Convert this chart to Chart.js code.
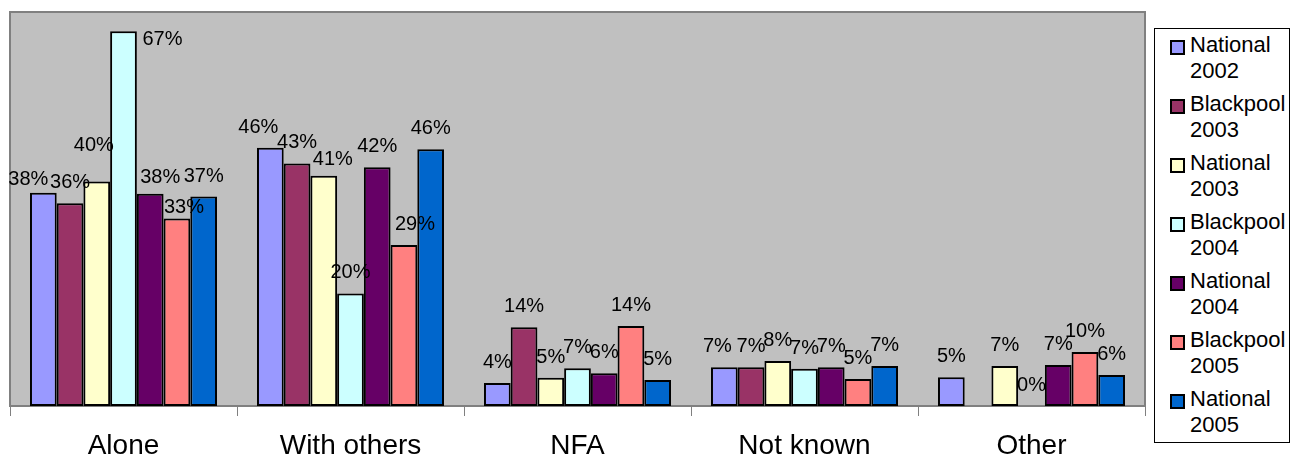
<!DOCTYPE html>
<html>
<head>
<meta charset="utf-8">
<title>Living arrangements</title>
<script src="https://cdn.jsdelivr.net/npm/chart.js@4.4.1/dist/chart.umd.min.js"></script>
<style>
  body { margin: 0; background: #fff; }
  #wrap { position: relative; width: 1293px; height: 457px; }
  #myChart { position: absolute; left: 0; top: 0; }
  #legend {
    position: absolute; left: 1154px; top: 28px; width: 134px; height: 410px;
    border: 1px solid #000; background: #fff;
    font-family: "Liberation Sans", Arial, sans-serif; font-size: 22px; line-height: 26px; color: #000;
    padding-top: 3px; box-sizing: content-box;
  }
  .item { position: relative; height: 52px; margin-bottom: 7px; padding-left: 35px; }
  .swatch { position: absolute; left: 15px; top: 8px; width: 11px; height: 11px; border: 2px solid #000; }
</style>
</head>
<body>
<div id="wrap">
  <canvas id="myChart" width="1293" height="457"></canvas>
  <div id="legend"></div>
</div>
<script>
const categories = ['Alone', 'With others', 'NFA', 'Not known', 'Other'];

const national2002 = [37.9, 45.9, 4.1, 6.9, 5.1];
const blackpool2003 = [36.0, 43.1, 14.0, 6.9, null];
const national2003 = [39.9, 40.9, 5.0, 8.0, 7.1];
const blackpool2004 = [66.6, 20.0, 6.7, 6.6, 0];
const national2004 = [37.7, 42.4, 5.8, 6.9, 7.3];
const blackpool2005 = [33.3, 28.6, 14.2, 4.8, 9.6];
const national2005 = [37.2, 45.6, 4.6, 7.1, 5.5];

const seriesNames = ['National 2002', 'Blackpool 2003', 'National 2003', 'Blackpool 2004',
                     'National 2004', 'Blackpool 2005', 'National 2005'];
const seriesValues = [national2002, blackpool2003, national2003, blackpool2004,
                      national2004, blackpool2005, national2005];
const seriesColors = ['#9999FF', '#993366', '#FFFFCC', '#CCFFFF', '#660066', '#FF8080', '#0066CC'];

const FONT = '"Liberation Sans", Arial, sans-serif';

// a few value labels sit off-centre, keyed "series,category" -> [dx, dy]
const labelNudge = {
    '0,0': [-15, 7], '2,0': [-3, -15], '3,0': [39, 29], '4,0': [10, 4], '5,0': [7, 9],
    '0,1': [-12, 0], '2,1': [9, 4], '5,1': [11, 0],
    '0,3': [-7, 0]
};

// grey plot area with a darker frame
const plotBackground = {
    id: 'plotBackground',
    beforeDraw(chart) {
        const { ctx, chartArea: a } = chart;
        ctx.save();
        ctx.fillStyle = '#C0C0C0';
        ctx.fillRect(a.left, a.top, a.right - a.left, a.bottom - a.top);
        ctx.strokeStyle = '#808080';
        ctx.lineWidth = 2;
        ctx.strokeRect(a.left, a.top, a.right - a.left, a.bottom - a.top);
        ctx.restore();
    }
};

// percentage labels above each bar
const valueLabels = {
    id: 'valueLabels',
    afterDatasetsDraw(chart) {
        const ctx = chart.ctx;
        ctx.save();
        ctx.font = '20px ' + FONT;
        ctx.fillStyle = '#000';
        ctx.textAlign = 'center';
        ctx.textBaseline = 'alphabetic';
        chart.data.datasets.forEach((ds, si) => {
            chart.getDatasetMeta(si).data.forEach((bar, ci) => {
                const v = ds.data[ci];
                if (v === null || v === undefined) return;
                const n = labelNudge[si + ',' + ci] || [0, 0];
                ctx.fillText(Math.round(v) + '%', bar.x + n[0], bar.y - 15 + n[1]);
            });
        });
        ctx.restore();
    }
};

const ctx = document.getElementById('myChart').getContext('2d');
const myChart = new Chart(ctx, {
    type: 'bar',
    data: {
        labels: categories,
        datasets: seriesNames.map((name, i) => ({
            label: name,
            data: seriesValues[i],
            backgroundColor: seriesColors[i],
            borderColor: '#000',
            borderWidth: 2,
            borderSkipped: false,
            categoryPercentage: 0.824,
            barPercentage: 1.0
        }))
    },
    options: {
        responsive: false,
        animation: false,
        devicePixelRatio: 1,
        layout: { padding: { left: 10, top: 12, right: 148, bottom: 0 } },
        plugins: {
            legend: { display: false },
            tooltip: { enabled: false }
        },
        scales: {
            x: {
                afterFit: s => { s.height = 51; },
                grid: {
                    offset: true,
                    drawOnChartArea: false,
                    color: '#808080',
                    lineWidth: 1,
                    tickLength: 10
                },
                border: { color: '#808080', width: 2 },
                ticks: {
                    color: '#000',
                    padding: 13,
                    font: { family: FONT, size: 28 }
                }
            },
            y: {
                display: false,
                min: 0,
                max: 70
            }
        }
    },
    plugins: [plotBackground, valueLabels]
});

// legend with names wrapped onto two lines
const legend = document.getElementById('legend');
myChart.data.datasets.forEach(ds => {
    const item = document.createElement('div');
    item.className = 'item';
    const sw = document.createElement('span');
    sw.className = 'swatch';
    sw.style.background = ds.backgroundColor;
    item.appendChild(sw);
    const parts = ds.label.split(' ');
    item.appendChild(document.createTextNode(parts[0]));
    item.appendChild(document.createElement('br'));
    item.appendChild(document.createTextNode(parts[1]));
    legend.appendChild(item);
});
</script>
</body>
</html>
